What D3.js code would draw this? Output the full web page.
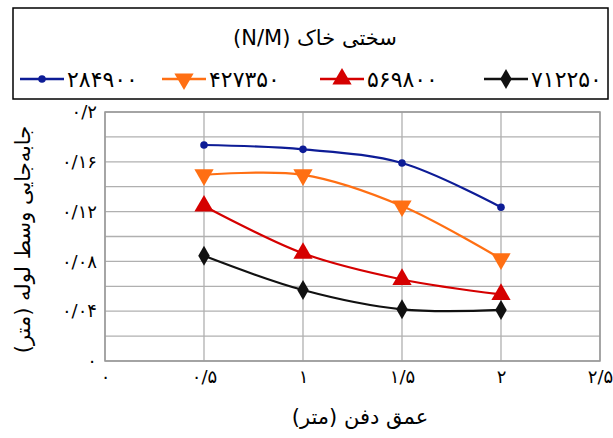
<!DOCTYPE html>
<html>
<head>
<meta charset="utf-8">
<script src="https://cdn.jsdelivr.net/npm/d3@7"></script>
<style>
  body { margin: 0; background: #fff; }
  svg { font-family: "DejaVu Sans", sans-serif; }
</style>
</head>
<body>
<svg width="613" height="438"></svg>
<script>
(function() {
    // data
    var depths = [0.5, 1, 1.5, 2];
    var seriesNames = ["۲۸۴۹۰۰", "۴۲۷۳۵۰", "۵۶۹۸۰۰", "۷۱۲۲۵۰"];
    var s284900 = [0.1735, 0.1700, 0.1590, 0.1235];
    var s427350 = [0.1495, 0.1495, 0.1245, 0.0820];
    var s569800 = [0.1245, 0.0865, 0.0655, 0.0535];
    var s712250 = [0.0845, 0.0570, 0.0415, 0.0410];
    var xTicks = [0, 0.5, 1, 1.5, 2, 2.5];
    var xTickLabels = ["۰", "۰/۵", "۱", "۱/۵", "۲", "۲/۵"];
    var yTicks = [0, 0.04, 0.08, 0.12, 0.16, 0.2];
    var yTickLabels = ["۰", "۰/۰۴", "۰/۰۸", "۰/۱۲", "۰/۱۶", "۰/۲"];

    var colors = ["#0d1c96", "#ff6f13", "#d50000", "#111111"];
    var symbols = [d3.symbolCircle, d3.symbolTriangle, d3.symbolTriangle, d3.symbolDiamond];
    var symSizes = [45, 160, 160, 115];
    var rot = [0, 180, 0, 0];

    var series = [s284900, s427350, s569800, s712250].map(function(vals, i) {
        return { name: seriesNames[i], color: colors[i], symbol: symbols[i], size: symSizes[i], rot: rot[i],
                 points: vals.map(function(v, j) { return { x: depths[j], y: v }; }) };
    });

    var svg = d3.select("svg");
    var margin = { top: 112, right: 13, bottom: 77, left: 105 };
    var width = 613 - margin.left - margin.right;
    var height = 438 - margin.top - margin.bottom;

    var x = d3.scaleLinear().domain([0, 2.5]).range([0, width]);
    var y = d3.scaleLinear().domain([0, 0.2]).range([height, 0]);

    var g = svg.append("g").attr("transform", "translate(" + margin.left + "," + margin.top + ")");

    // grid
    g.append("g").selectAll("line")
        .data(d3.range(0, 0.2001, 0.02))
      .enter().append("line")
        .attr("x1", 0).attr("x2", width)
        .attr("y1", function(d) { return y(d); }).attr("y2", function(d) { return y(d); })
        .attr("stroke", "#b0b0b0").attr("stroke-width", 1.3);
    g.append("g").selectAll("line")
        .data(xTicks)
      .enter().append("line")
        .attr("y1", 0).attr("y2", height)
        .attr("x1", function(d) { return x(d); }).attr("x2", function(d) { return x(d); })
        .attr("stroke", "#b0b0b0").attr("stroke-width", 1.3);
    g.append("rect")
        .attr("width", width).attr("height", height)
        .attr("fill", "none").attr("stroke", "#999").attr("stroke-width", 1.5);

    // axes (labels only)
    var xAxis = g.append("g")
        .attr("transform", "translate(0," + height + ")")
        .call(d3.axisBottom(x).tickValues(xTicks).tickSize(0).tickPadding(9)
            .tickFormat(function(d, i) { return xTickLabels[i]; }));
    var yAxis = g.append("g")
        .call(d3.axisLeft(y).tickValues(yTicks).tickSize(0).tickPadding(8)
            .tickFormat(function(d, i) { return yTickLabels[i]; }));
    [xAxis, yAxis].forEach(function(a) {
        a.select(".domain").remove();
        a.selectAll("text").attr("font-size", 18).attr("fill", "#000")
            .attr("font-family", "DejaVu Sans");
    });

    // lines
    var line = d3.line()
        .x(function(d) { return x(d.x); })
        .y(function(d) { return y(d.y); })
        .curve(d3.curveCatmullRom.alpha(0.5));

    series.forEach(function(s) {
        g.append("path")
            .datum(s.points)
            .attr("fill", "none")
            .attr("stroke", s.color)
            .attr("stroke-width", 2.2)
            .attr("d", line);
        g.selectAll(null)
            .data(s.points)
          .enter().append("path")
            .attr("d", d3.symbol().type(s.symbol).size(s.size))
            .attr("transform", function(d) {
                return "translate(" + x(d.x) + "," + y(d.y) + ") rotate(" + s.rot + ")";
            })
            .attr("fill", s.color);
    });

    // axis titles
    svg.append("text")
        .attr("x", 360).attr("y", 424)
        .attr("text-anchor", "middle")
        .attr("direction", "rtl")
        .attr("font-size", 21)
        .text("عمق دفن (متر)");
    svg.append("text")
        .attr("transform", "translate(30," + (margin.top + height / 2 + 3) + ") rotate(-90)")
        .attr("text-anchor", "middle")
        .attr("direction", "rtl")
        .attr("font-size", 21)
        .text("جابه‌جایی وسط لوله (متر)");

    // legend
    var legend = svg.append("g");
    legend.append("rect")
        .attr("x", 13).attr("y", 8).attr("width", 595).attr("height", 91)
        .attr("fill", "#fff").attr("stroke", "#000").attr("stroke-width", 1.5);
    legend.append("text")
        .attr("x", 315).attr("y", 45)
        .attr("text-anchor", "middle")
        .attr("direction", "rtl")
        .attr("font-size", 21)
        .text("سختی خاک (N/M)");

    var legendX = [20, 162, 320, 484];
    var item = legend.selectAll(".item")
        .data(series)
      .enter().append("g")
        .attr("class", "item")
        .attr("transform", function(d, i) { return "translate(" + legendX[i] + ",79)"; });
    item.append("line")
        .attr("x1", 0).attr("x2", 44)
        .attr("stroke", function(d) { return d.color; })
        .attr("stroke-width", 2.5);
    item.append("path")
        .attr("d", function(d) { return d3.symbol().type(d.symbol).size(d.size)(); })
        .attr("transform", function(d) { return "translate(22,0) rotate(" + d.rot + ")"; })
        .attr("fill", function(d) { return d.color; });
    item.append("text")
        .attr("x", 47).attr("y", 8)
        .attr("font-size", 22)
        .text(function(d) { return d.name; });
})();
</script>
</body>
</html>
